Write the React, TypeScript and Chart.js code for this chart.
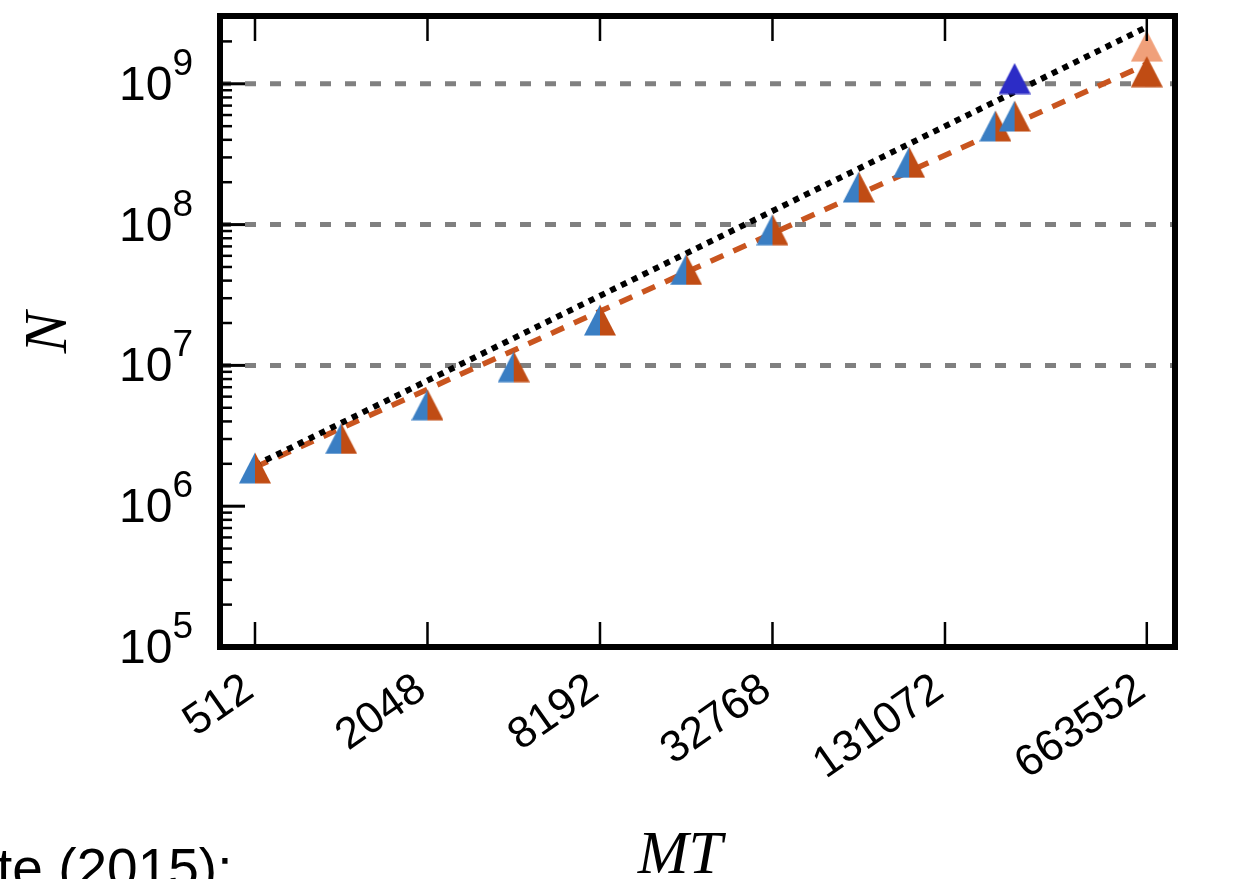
import React, { useEffect, useRef } from "react";
import { Chart, registerables } from "chart.js";

Chart.register(...registerables);

// ---- data ----
const xTickValues = [512, 2048, 8192, 32768, 131072, 663552];
const xTickLabels = ["512", "2048", "8192", "32768", "131072", "663552"];
const yTickExponents = [5, 6, 7, 8, 9];
const refLineExponents = [7, 8, 9];

const mtValues = [512, 1024, 2048, 4096, 8192, 16384, 32768, 65536, 98304, 196608, 229376];
const nMeasured = [1.87e6, 3.03e6, 5.25e6, 9.8e6, 2.1e7, 4.8e7, 9.2e7, 1.85e8, 2.77e8, 5.02e8, 5.9e8];
const mtHighlight = [229376];
const nHighlight = [1.09e9];
const mtLargest = [663552];
const nLargestLight = [1.85e9];
const nLargestDark = [1.22e9];
const mtFit = [512, 663552];
const nFitLinear = [1.95e6, 2.53e9];
const nFitPower = [1.89e6, 1.38e9];

const X_MIN = 386.5;
const X_MAX = 832400;
const Y_MIN = 1e5;
const Y_MAX = 3.03e9;

const BLUE = "#3A7EC3";
const ORANGE = "#C04C14";
const ORANGE_LINE = "#C9551F";
const DARK_BLUE = "#2C2CC6";
const LIGHT_ORANGE = "#F0A07A";
const GRAY = "#808080";

const SANS = "'Liberation Sans', Arial, sans-serif";
const SERIF = "'Liberation Serif', 'Times New Roman', serif";

function makeTriangle(left: string, right: string): HTMLCanvasElement {
  const c = document.createElement("canvas");
  c.width = 32;
  c.height = 32;
  const g = c.getContext("2d") as CanvasRenderingContext2D;
  g.save();
  g.beginPath();
  g.moveTo(16, 0.5);
  g.lineTo(0, 31.5);
  g.lineTo(32, 31.5);
  g.closePath();
  g.clip();
  g.fillStyle = left;
  g.fillRect(0, 0, 16, 32);
  g.fillStyle = right;
  g.fillRect(16, 0, 16, 32);
  g.restore();
  return c;
}

const toPts = (xs: number[], ys: number[]) => xs.map((v, i) => ({ x: v, y: ys[i] }));

const decorPlugin = {
  id: "decor",
  beforeDatasetsDraw(chart: any) {
    const { ctx, chartArea: a } = chart;
    const y = chart.scales.y;
    ctx.save();
    ctx.strokeStyle = GRAY;
    ctx.lineWidth = 5;
    ctx.setLineDash([11, 14]);
    refLineExponents.forEach((e) => {
      const py = y.getPixelForValue(Math.pow(10, e));
      ctx.beginPath();
      ctx.moveTo(a.left, py);
      ctx.lineTo(a.right, py);
      ctx.stroke();
    });
    ctx.restore();
  },
  afterDatasetsDraw(chart: any) {
    const { ctx, chartArea: a } = chart;
    const x = chart.scales.x;
    const y = chart.scales.y;
    ctx.save();
    ctx.strokeStyle = "#000";
    ctx.fillStyle = "#000";
    ctx.lineCap = "butt";

    // x ticks (inward, bottom and top)
    ctx.lineWidth = 2.5;
    xTickValues.forEach((v) => {
      const px = x.getPixelForValue(v);
      ctx.beginPath();
      ctx.moveTo(px, a.bottom);
      ctx.lineTo(px, a.bottom - 25);
      ctx.moveTo(px, a.top);
      ctx.lineTo(px, a.top + 25);
      ctx.stroke();
    });

    // y ticks (inward, left only)
    yTickExponents.forEach((e) => {
      const base = Math.pow(10, e);
      const py = y.getPixelForValue(base);
      ctx.lineWidth = 3;
      ctx.beginPath();
      ctx.moveTo(a.left, py);
      ctx.lineTo(a.left + 25, py);
      ctx.stroke();
      ctx.lineWidth = 2.5;
      for (let m = 2; m <= 9; m++) {
        const v = m * base;
        if (v > Y_MAX) break;
        const pm = y.getPixelForValue(v);
        ctx.beginPath();
        ctx.moveTo(a.left, pm);
        ctx.lineTo(a.left + 12, pm);
        ctx.stroke();
      }
    });

    // frame
    ctx.lineWidth = 6;
    ctx.lineJoin = "miter";
    ctx.strokeRect(a.left, a.top, a.right - a.left, a.bottom - a.top);

    // y tick labels 10^e
    yTickExponents.forEach((e) => {
      const py = y.getPixelForValue(Math.pow(10, e));
      const xr = a.left - 47.5;
      ctx.font = `48px ${SANS}`;
      ctx.textAlign = "right";
      ctx.textBaseline = "alphabetic";
      ctx.fillText("10", xr, py + 16);
      ctx.font = `37px ${SANS}`;
      ctx.textAlign = "left";
      ctx.fillText(String(e), xr, py - 9);
    });

    // x tick labels, rotated
    ctx.font = `44px ${SANS}`;
    xTickValues.forEach((v, i) => {
      const px = x.getPixelForValue(v);
      ctx.save();
      ctx.translate(px - 6, a.bottom + 38);
      ctx.rotate((-35 * Math.PI) / 180);
      ctx.textAlign = "right";
      ctx.textBaseline = "middle";
      ctx.fillText(xTickLabels[i], 0, 0);
      ctx.restore();
    });

    // axis titles
    ctx.font = `italic 62px ${SERIF}`;
    ctx.save();
    ctx.translate(50, (a.top + a.bottom) / 2 + 1);
    ctx.rotate(-Math.PI / 2);
    ctx.textAlign = "center";
    ctx.textBaseline = "middle";
    ctx.fillText("N", 0, 0);
    ctx.restore();

    ctx.font = `italic 61px ${SERIF}`;
    ctx.textAlign = "center";
    ctx.textBaseline = "alphabetic";
    ctx.fillText("MT", 680, 873);

    // cut-off caption text
    ctx.font = `55px ${SANS}`;
    ctx.textAlign = "left";
    ctx.fillText("te (2015):", -3, 887);

    ctx.restore();
  },
};

export default function App() {
  const ref = useRef<HTMLCanvasElement | null>(null);

  useEffect(() => {
    document.body.style.margin = "0";
    const canvas = ref.current;
    if (!canvas) return;
    const split = makeTriangle(BLUE, ORANGE);
    const dblue = makeTriangle(DARK_BLUE, DARK_BLUE);
    const lorange = makeTriangle(LIGHT_ORANGE, LIGHT_ORANGE);
    const dorange = makeTriangle(ORANGE, ORANGE);

    const chart = new Chart(canvas, {
      type: "scatter",
      data: {
        datasets: [
          {
            label: "N ∝ MT",
            data: toPts(mtFit, nFitLinear),
            showLine: true,
            borderColor: "#000",
            borderWidth: 6,
            borderDash: [6, 6],
            pointRadius: 0,
            order: 4,
          },
          {
            label: "fit",
            data: toPts(mtFit, nFitPower),
            showLine: true,
            borderColor: ORANGE_LINE,
            borderWidth: 5.5,
            borderDash: [14, 11],
            pointRadius: 0,
            order: 5,
          },
          {
            label: "measured",
            data: toPts(mtValues, nMeasured),
            pointStyle: split as any,
            pointRadius: 15,
            showLine: false,
            order: 3,
          },
          {
            label: "highlight",
            data: toPts(mtHighlight, nHighlight),
            pointStyle: dblue as any,
            pointRadius: 15,
            showLine: false,
            order: 2,
          },
          {
            label: "largest (light)",
            data: toPts(mtLargest, nLargestLight),
            pointStyle: lorange as any,
            pointRadius: 15,
            showLine: false,
            order: 2,
          },
          {
            label: "largest (dark)",
            data: toPts(mtLargest, nLargestDark),
            pointStyle: dorange as any,
            pointRadius: 15,
            showLine: false,
            order: 1,
          },
        ],
      },
      options: {
        responsive: false,
        animation: false,
        events: [],
        layout: { padding: { left: 220, right: 73, top: 10.5, bottom: 232 } },
        plugins: { legend: { display: false }, tooltip: { enabled: false } },
        scales: {
          x: { type: "logarithmic", min: X_MIN, max: X_MAX, display: false },
          y: { type: "logarithmic", min: Y_MIN, max: Y_MAX, display: false },
        },
      },
      plugins: [decorPlugin],
    });
    return () => chart.destroy();
  }, []);

  return (
    <canvas
      ref={ref}
      width={1248}
      height={879}
      style={{ position: "fixed", left: 0, top: 0, display: "block", background: "#fff" }}
    />
  );
}
